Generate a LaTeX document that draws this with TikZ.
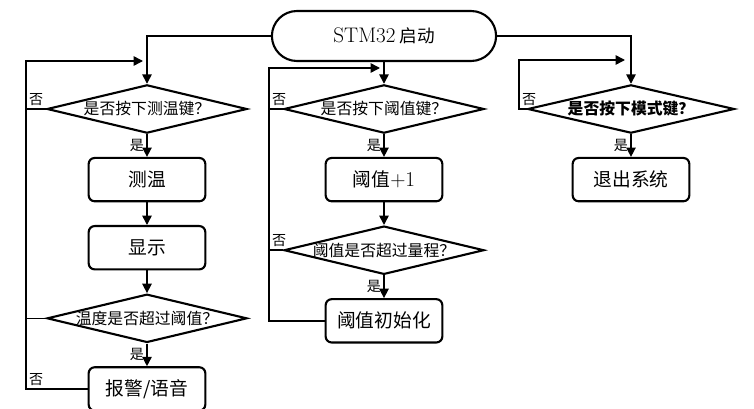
\documentclass[tikz,border=0pt]{standalone}
\usepackage{fontspec}
\newfontfamily\cjk{Noto Sans CJK SC}
\newcommand\latn{\normalfont\fontsize{18}{20}\selectfont}
\usetikzlibrary{arrows.meta, positioning, shapes.geometric, shapes.misc}

\begin{document}
\begin{tikzpicture}[
    node distance=0.68cm,
    startbox/.style={rounded rectangle, draw, line width=1.8pt, minimum width=6.96cm, minimum height=1.5cm, font=\cjk\fontsize{15}{18}\selectfont},
    block/.style={rectangle, draw, rounded corners=0.18cm, line width=1.8pt, minimum width=3.5cm, minimum height=1.3cm, align=center, font=\cjk\fontsize{16}{19}\selectfont},
    decision/.style={diamond, draw, line width=1.8pt, aspect=4, inner sep=0pt, text height=0.35cm, text depth=0pt, minimum width=6cm, minimum height=1.45cm, font=\cjk\fontsize{13.5}{16}\selectfont},
    arrow/.style={-{Triangle[length=8pt, width=8pt]}, line width=1.3pt},
    conn/.style={line width=1.3pt},
    lbl/.style={font=\cjk\fontsize{12}{14}\selectfont, inner sep=2pt},
]
\useasboundingbox (0,0) rectangle (22.62,-12.27);

\node[startbox] (start) at (11.52,-1.08) {{\latn STM32} 启动};

% left column
\node[decision] (keyT) at (4.41,-3.27) {是否按下测温键？};
\node[block,    below=of keyT]  (meas)  {测温};
\node[block,    below=of meas]  (show)  {显示};
\node[decision, below=of show]  (over)  {温度是否超过阈值？};
\node[block,    below=of over]  (alarm) {报警/语音};

% middle column
\node[decision] (keyV) at (11.52,-3.27) {是否按下阈值键？};
\node[block,    below=of keyV]  (inc)   {阈值{\latn +1}};
\node[decision, below=of inc]   (range) {阈值是否超过量程？};
\node[block,    below=of range] (reset) {阈值初始化};

% right column
\node[decision, minimum width=6.2cm, font=\cjk\bfseries\fontsize{13.5}{16}\selectfont] (keyM) at (18.93,-3.27) {是否按下模式键？};
\node[block,    below=of keyM]  (quit)  {退出系统};

% loop entry points
\coordinate (inT) at (4.29,-1.83);
\coordinate (inV) at (11.4,-2.04);
\coordinate (inM) at (18.75,-1.8);

% main flow
\draw[arrow] (start.west)  -| (keyT.north);
\draw[arrow] (start.south) -- (keyV.north);
\draw[arrow] (start.east)  -| (keyM.north);

\draw[arrow] (keyT) -- node[lbl, left]{是} (meas);
\draw[arrow] (meas) -- (show);
\draw[arrow] (show) -- (over);
\draw[arrow] (over) -- node[lbl, left]{是} (alarm);

\draw[arrow] (keyV)  -- node[lbl, left]{是} (inc);
\draw[arrow] (inc)   -- (range);
\draw[arrow] (range) -- node[lbl, left]{是} (reset);

\draw[arrow] (keyM) -- node[lbl, left]{是} (quit);

% loops back
\draw[conn]  (keyT.west) -- ++(-0.6,0) node[lbl, above right]{否};
\draw[conn]  (over.west) -- ++(-0.6,0);
\draw[arrow] (alarm.west) -- ++(-1.85,0) node[lbl, above right]{否} |- (inT);

\draw[conn]  (keyV.west)  -- ++(-0.42,0) node[lbl, above right]{否};
\draw[conn]  (range.west) -- ++(-0.42,0) node[lbl, above right]{否};
\draw[arrow] (reset.west) -- ++(-1.67,0) |- (inV);

\draw[arrow] (keyM.west) -- ++(-0.23,0) node[lbl, above right]{否} |- (inM);

\end{tikzpicture}
\end{document}
